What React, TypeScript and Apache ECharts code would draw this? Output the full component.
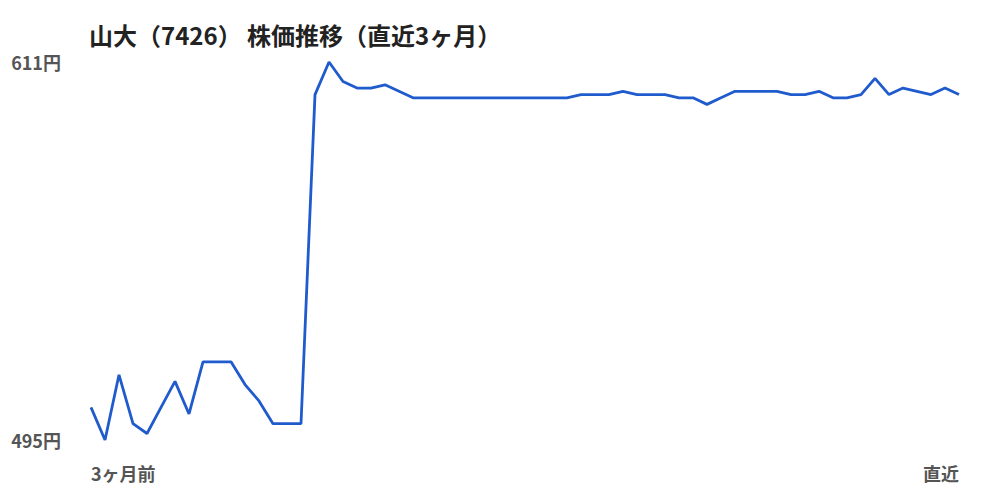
import React, { useEffect, useRef } from "react";
import * as echarts from "echarts";

const TITLE = "山大（7426） 株価推移（直近3ヶ月）";
const START_LABEL = "3ヶ月前";
const END_LABEL = "直近";
const Y_MIN = 495;
const Y_MAX = 611;
const PRICES: number[] = [
  505, 495, 515, 500, 497, 505, 513, 503, 519, 519, 519, 512, 507, 500, 500, 500,
  601, 611, 605, 603, 603, 604, 602,
  600, 600, 600, 600, 600, 600, 600, 600, 600, 600, 600, 600,
  601, 601, 601, 602, 601, 601, 601, 600, 600, 598, 600,
  602, 602, 602, 602, 601, 601, 602, 600, 600, 601, 606, 601, 603, 602, 601, 603, 601,
];
const CATEGORIES: string[] = PRICES.map((_, i) =>
  i === 0 ? START_LABEL : i === PRICES.length - 1 ? END_LABEL : ""
);

const FONT = '"Noto Sans CJK JP", "Noto Sans", sans-serif';

export default function App() {
  const ref = useRef<HTMLDivElement>(null);
  useEffect(() => {
    if (!ref.current) return;
    const chart = echarts.init(ref.current, undefined, { renderer: "svg" });
    chart.setOption({
      animation: false,
      backgroundColor: "#ffffff",
      textStyle: { fontFamily: FONT },
      title: {
        text: TITLE,
        left: 84,
        top: 17,
        textStyle: { fontSize: 24, fontWeight: "bold", color: "#222222", fontFamily: FONT },
      },
      grid: { left: 91, right: 41, top: 62, bottom: 60 },
      xAxis: {
        type: "category",
        data: CATEGORIES,
        boundaryGap: false,
        axisLine: { show: false },
        axisTick: { show: false },
        splitLine: { show: false },
        axisLabel: {
          interval: 0,
          margin: 24,
          fontSize: 18,
          fontWeight: "bold",
          color: "#555555",
          fontFamily: FONT,
          alignMinLabel: "left",
          alignMaxLabel: "right",
        },
      },
      yAxis: {
        type: "value",
        min: Y_MIN,
        max: Y_MAX,
        axisLine: { show: false },
        axisTick: { show: false },
        splitLine: { show: false },
        axisLabel: {
          customValues: [Y_MIN, Y_MAX],
          margin: 30,
          fontSize: 18,
          fontWeight: "bold",
          color: "#555555",
          fontFamily: FONT,
          formatter: (v: number) => `${v}円`,
        },
      },
      series: [
        {
          type: "line",
          data: PRICES,
          showSymbol: false,
          symbol: "none",
          lineStyle: { color: "#1f5bcc", width: 2.8 },
        },
      ],
    });
    return () => chart.dispose();
  }, []);
  return (
    <div
      ref={ref}
      style={{ position: "absolute", left: 0, top: 0, width: 1000, height: 500 }}
    />
  );
}
